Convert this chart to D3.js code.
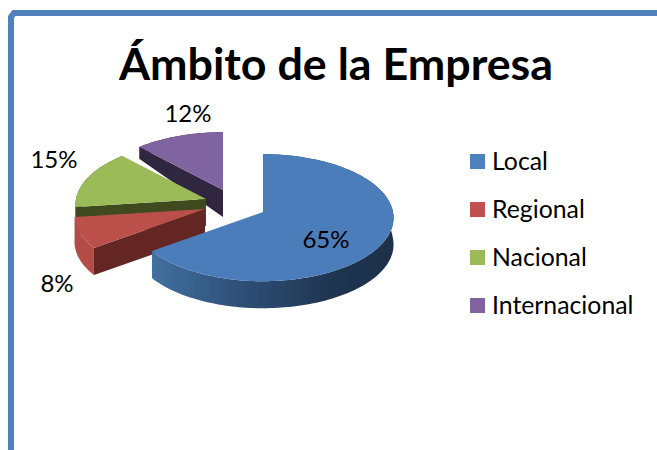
<!DOCTYPE html>
<html>
<head>
<meta charset="utf-8">
<script src="https://cdn.jsdelivr.net/npm/d3@7"></script>
<style>
html,body{margin:0;padding:0;background:#fff;overflow:hidden}
text{font-family:Lato,"Open Sans",sans-serif;fill:#000}
</style>
</head>
<body>
<svg id="c" width="657" height="450"></svg>
<script>
const titleText = "Ámbito de la Empresa";
const categories = ["Local", "Regional", "Nacional", "Internacional"];
const values = [65, 8, 15, 12];
const valueLabels = ["65%", "8%", "15%", "12%"];

// Presentation
const topColors = ["#4a7dba", "#bb4f4a", "#9bbb59", "#8063a1"];
const legendColors = ["#4f81bd", "#c0504d", "#9bbb59", "#8064a2"];
const rimColors = ["url(#rimLocal)", "#b34c47", "#3f4a1f", "#31263f"];
const faceColors = ["#24405f", "#632623", "#3f4a1f", "#31263f"];
const sliceCenters = [[263, 212], [205, 209], [206, 199], [223, 190]];
const labelAnchors = [[326, 239], [57, 283], [54, 159], [188, 113]];
const drawOrder = [3, 2, 1, 0];

const svg = d3.select("#c");
const defs = svg.append("defs");
const grad = defs.append("linearGradient").attr("id", "rimLocal")
  .attr("gradientUnits", "userSpaceOnUse")
  .attr("x1", 153).attr("x2", 393).attr("y1", 0).attr("y2", 0);
[[0, "#41709f"], [0.35, "#2f5079"], [0.75, "#1f3550"], [1, "#1c3049"]].forEach(s =>
  grad.append("stop").attr("offset", s[0]).attr("stop-color", s[1]));

// frame
svg.append("path")
  .attr("d", d3.line()([[11, 450], [11, 17], [14, 13], [657, 13]]))
  .attr("fill", "none").attr("stroke", "#4f81bd").attr("stroke-width", 6);

svg.append("text").attr("x", 336).attr("y", 80)
  .attr("text-anchor", "middle").attr("font-size", 44.8).attr("font-weight", 700)
  .text(titleText);

// projection of the tilted disc, with perspective
const rx = 130, ry = 63, persp = 0.09;
function project(center, a) {
  const u = Math.sin(a), v = Math.cos(a), s = 1 / (1 + persp * v);
  return [center[0] + rx * u * s, center[1] - ry * v * s];
}
const apexDepth = 27;
const depthAt = a => apexDepth - 20.5 * Math.max(Math.cos(a), 0);
const drop = (p, a) => [p[0], p[1] + depthAt(a)];
const line = d3.line();

const arcs = d3.pie().sort(null)(values);
const g = svg.append("g");

drawOrder.forEach(i => {
  const d = arcs[i], c = sliceCenters[i];
  const n = Math.max(2, Math.ceil((d.endAngle - d.startAngle) * 40));
  const angles = d3.range(n + 1).map(k => d.startAngle + (d.endAngle - d.startAngle) * k / n);
  const rim = angles.map(a => project(c, a));
  const s0 = d.startAngle;

  // cut face at the start angle
  g.append("path")
    .attr("d", line([c, rim[0], drop(rim[0], s0), [c[0], c[1] + apexDepth]]) + "Z")
    .attr("fill", faceColors[i]);

  // outer wall
  const lower = angles.map((a, k) => drop(rim[k], a)).reverse();
  g.append("path")
    .attr("d", line(rim.concat(lower)) + "Z")
    .attr("fill", rimColors[i]);

  // top face
  g.append("path")
    .attr("d", line([c].concat(rim)) + "Z")
    .attr("fill", topColors[i]);
});

// data labels
svg.append("g").selectAll("text").data(valueLabels).join("text")
  .attr("x", (t, i) => labelAnchors[i][0])
  .attr("y", (t, i) => labelAnchors[i][1] + 8.5)
  .attr("text-anchor", "middle").attr("font-size", 24)
  .text(t => t);

// legend
const legendY = d3.scalePoint().domain(categories).range([161.5, 305.5]);
const legend = svg.append("g").selectAll("g").data(categories).join("g");
legend.append("rect")
  .attr("x", 470).attr("y", t => legendY(t) - 7.5)
  .attr("width", 15).attr("height", 15)
  .attr("fill", (t, i) => legendColors[i]);
legend.append("text")
  .attr("x", 492).attr("y", t => legendY(t) + 8)
  .attr("font-size", 24.8)
  .text(t => t);
</script>
</body>
</html>
